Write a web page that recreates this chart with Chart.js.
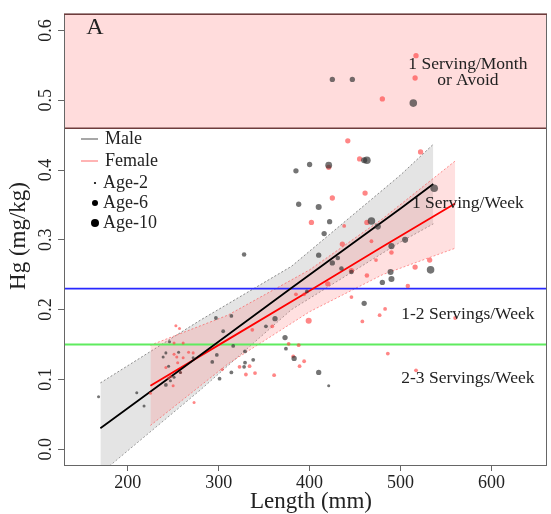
<!DOCTYPE html>
<html>
<head>
<meta charset="utf-8">
<script src="https://cdn.jsdelivr.net/npm/chart.js@4.4.1/dist/chart.umd.min.js"></script>
<style>
  html, body { margin: 0; padding: 0; background: #fff; }
  canvas { display: block; }
</style>
</head>
<body>
<canvas id="hgChart" width="551" height="514"></canvas>
<script>
// tick labels
const lengthTicks = [200, 300, 400, 500, 600];
const hgTicks = [0.0, 0.1, 0.2, 0.3, 0.4, 0.5, 0.6];

// consumption advice limits (mg/kg): avoid above, 1/week, 1-2/week
const adviceLimits = [0.46, 0.23, 0.15];
const adviceLabels = [['1 Serving/Month', 'or Avoid'], ['1 Serving/Week'], ['1-2 Servings/Week'], ['2-3 Servings/Week']];

// male fish
const maleLength = [425, 447, 514, 463, 460, 385, 400, 421, 388, 410, 422, 468, 475, 416, 490, 328, 410, 431, 425, 435,
  537, 505, 533, 489, 446, 490, 480, 460, 421, 397, 362, 352, 373, 329, 374, 383, 338, 329, 328, 410,
  297, 314, 305, 246, 242, 239, 256, 272, 245, 258, 251, 247, 242, 218, 298, 293, 316, 314, 301, 168, 210];
const maleHg = [0.530, 0.530, 0.496, 0.414, 0.414, 0.399, 0.408, 0.407, 0.351, 0.347, 0.326, 0.327, 0.319, 0.309, 0.291, 0.279, 0.278, 0.274, 0.267, 0.259,
  0.374, 0.300, 0.257, 0.254, 0.254, 0.244, 0.239, 0.209, 0.091, 0.226, 0.187, 0.176, 0.160, 0.140, 0.144, 0.130, 0.128, 0.124, 0.118, 0.110,
  0.188, 0.191, 0.169, 0.154, 0.138, 0.132, 0.139, 0.131, 0.119, 0.110, 0.103, 0.098, 0.092, 0.062, 0.135, 0.125, 0.148, 0.110, 0.101, 0.075, 0.081];
const maleAge = [5, 5, 8, 8, 6, 5, 5, 7, 5, 6, 5, 8, 6, 5, 6, 4, 5, 4, 5, 4,
  8, 6, 8, 6, 4, 6, 5, 5, 2, 3, 5, 3, 5, 3, 3, 5, 3, 3, 3, 5,
  3, 3, 3, 2, 2, 2, 2, 2, 2, 2, 2, 2, 3, 2, 3, 3, 3, 3, 3, 2, 2];

// female fish
const femaleLength = [517, 516, 480, 442, 455, 421, 425, 461, 402, 438, 463, 436, 468, 490, 473, 446,
  522, 532, 516, 463, 508, 446, 483, 477, 458, 560, 486, 517, 420, 394, 385, 399, 359, 337, 377, 388,
  382, 394, 389, 323, 334, 330, 340, 361, 253, 257, 251, 261, 251, 267, 272, 261, 254, 242, 255, 247,
  250, 225, 304, 273, 245, 258];
const femaleHg = [0.564, 0.532, 0.502, 0.442, 0.416, 0.404, 0.360, 0.367, 0.325, 0.320, 0.325, 0.294, 0.298, 0.282, 0.271, 0.256,
  0.426, 0.271, 0.261, 0.249, 0.234, 0.218, 0.201, 0.192, 0.183, 0.188, 0.137, 0.113, 0.237, 0.222, 0.222, 0.184, 0.176, 0.171, 0.151, 0.149,
  0.133, 0.126, 0.119, 0.118, 0.119, 0.107, 0.109, 0.106, 0.177, 0.173, 0.152, 0.152, 0.136, 0.139, 0.138, 0.131, 0.132, 0.117, 0.124, 0.104,
  0.091, 0.080, 0.114, 0.067, 0.102, 0.110];
const femaleAge = [5, 5, 5, 5, 5, 5, 5, 5, 5, 3, 5, 5, 3, 4, 3, 5,
  5, 5, 5, 4, 4, 3, 3, 3, 3, 3, 3, 3, 5, 3, 3, 6, 3, 3, 3, 3,
  3, 3, 3, 3, 3, 3, 3, 3, 2, 2, 2, 2, 2, 2, 2, 2, 2, 2, 2, 2,
  2, 2, 2, 2, 2, 2];

// fitted lines and confidence bands
const maleFitLength = [170, 280, 380, 500, 536];
const maleFit = [0.030, 0.135, 0.231, 0.345, 0.380];
const maleUpper = [0.095, 0.185, 0.262, 0.393, 0.437];
const maleLower = [-0.035, 0.085, 0.200, 0.297, 0.323];

const femaleFitLength = [225, 310, 400, 480, 560];
const femaleFit = [0.091, 0.157, 0.227, 0.290, 0.352];
const femaleUpper = [0.149, 0.192, 0.257, 0.330, 0.413];
const femaleLower = [0.034, 0.122, 0.197, 0.250, 0.288];

const X_MIN = 130, X_MAX = 661;
const SERIF = "'Liberation Serif', 'DejaVu Serif', serif";
const TEXT = '#222';

const xy = (xs, ys) => xs.map((x, i) => ({ x: x, y: ys[i] }));
const ageRadius = age => 0.75 + 0.38 * age;

const datasets = [
  { // male points
    type: 'scatter', data: xy(maleLength, maleHg), order: 0,
    backgroundColor: 'rgba(50,50,50,0.68)', borderWidth: 0,
    pointRadius: ctx => ageRadius(maleAge[ctx.dataIndex] || 2)
  },
  {
    type: 'scatter', data: xy(femaleLength, femaleHg), order: 0,
    backgroundColor: 'rgba(255,60,60,0.62)', borderWidth: 0,
    pointRadius: ctx => ageRadius(femaleAge[ctx.dataIndex] || 2)
  },
  { // fitted lines
    type: 'line', data: xy(maleFitLength, maleFit), order: 1,
    borderColor: '#000', borderWidth: 1.8, pointRadius: 0, fill: false
  },
  {
    type: 'line', data: xy(femaleFitLength, femaleFit), order: 1,
    borderColor: '#ff0000', borderWidth: 1.8, pointRadius: 0, fill: false
  },
  { // advice lines
    type: 'line', data: xy([X_MIN, X_MAX], [adviceLimits[1], adviceLimits[1]]), order: 2,
    borderColor: 'rgb(40,40,255)', borderWidth: 1.8, pointRadius: 0, fill: false
  },
  {
    type: 'line', data: xy([X_MIN, X_MAX], [adviceLimits[2], adviceLimits[2]]), order: 2,
    borderColor: 'rgb(95,235,95)', borderWidth: 2.2, pointRadius: 0, fill: false
  },
  { // male band
    type: 'line', data: xy(maleFitLength, maleUpper), order: 4,
    borderColor: 'rgba(60,60,60,0.8)', borderWidth: 0.7, borderDash: [2, 2], pointRadius: 0,
    fill: '+1', backgroundColor: 'rgba(190,190,190,0.42)'
  },
  {
    type: 'line', data: xy(maleFitLength, maleLower), order: 4,
    borderColor: 'rgba(60,60,60,0.8)', borderWidth: 0.7, borderDash: [2, 2], pointRadius: 0, fill: false
  },
  { // female band
    type: 'line', data: xy(femaleFitLength, femaleUpper), order: 3,
    borderColor: 'rgba(255,60,60,0.8)', borderWidth: 0.7, borderDash: [2, 2], pointRadius: 0,
    fill: '+1', backgroundColor: 'rgba(255,130,130,0.25)'
  },
  {
    type: 'line', data: xy(femaleFitLength, femaleLower), order: 3,
    borderColor: 'rgba(255,60,60,0.8)', borderWidth: 0.7, borderDash: [2, 2], pointRadius: 0, fill: false
  }
];

const decorPlugin = {
  id: 'decor',
  beforeDatasetsDraw(chart) {
    const { ctx, chartArea: a, scales: { y } } = chart;
    const yTop = y.getPixelForValue(adviceLimits[0]);
    ctx.save();
    ctx.fillStyle = 'rgb(255,220,220)';
    ctx.fillRect(a.left, a.top, a.right - a.left, yTop - a.top);
    ctx.restore();
  },
  afterDatasetsDraw(chart) {
    const { ctx, chartArea: a, scales: { x, y } } = chart;
    ctx.save();
    // avoid limit line
    const yTop = y.getPixelForValue(adviceLimits[0]);
    ctx.strokeStyle = '#6e3c3c';
    ctx.lineWidth = 1.6;
    ctx.beginPath();
    ctx.moveTo(a.left, yTop);
    ctx.lineTo(a.right, yTop);
    ctx.stroke();
    // box
    ctx.strokeStyle = '#666';
    ctx.lineWidth = 1;
    ctx.strokeRect(a.left + 0.5, a.top + 0.5, a.right - a.left - 1, a.bottom - a.top);
    ctx.strokeStyle = '#6e3c3c';
    ctx.lineWidth = 1.4;
    ctx.beginPath();
    ctx.moveTo(a.left, a.top + 0.5);
    ctx.lineTo(a.right, a.top + 0.5);
    ctx.stroke();

    // zone labels
    ctx.fillStyle = TEXT;
    ctx.textAlign = 'center';
    ctx.textBaseline = 'middle';
    ctx.font = '17.5px ' + SERIF;
    const lx = x.getPixelForValue(574);
    const labelY = [[0.552, 0.528], [0.352], [0.193], [0.102]];
    adviceLabels.forEach((lines, i) => {
      lines.forEach((t, j) => ctx.fillText(t, lx, y.getPixelForValue(labelY[i][j])));
    });

    // panel letter
    ctx.font = '24px ' + SERIF;
    ctx.fillText('A', 95, 28);

    // y tick labels, rotated like R
    ctx.font = '18px ' + SERIF;
    hgTicks.forEach(v => {
      ctx.save();
      ctx.translate(46, y.getPixelForValue(v));
      ctx.rotate(-Math.PI / 2);
      ctx.fillText(v.toFixed(1), 0, 0);
      ctx.restore();
    });

    // axis titles
    ctx.font = '23px ' + SERIF;
    ctx.fillText('Length (mm)', 311, 502);
    ctx.save();
    ctx.translate(19, 236);
    ctx.rotate(-Math.PI / 2);
    ctx.fillText('Hg (mg/kg)', 0, 0);
    ctx.restore();

    // legend
    ctx.textAlign = 'left';
    ctx.font = '18px ' + SERIF;
    ctx.lineWidth = 1.3;
    ctx.strokeStyle = '#777';
    ctx.beginPath(); ctx.moveTo(81, 139); ctx.lineTo(98, 139); ctx.stroke();
    ctx.fillText('Male', 105, 139);
    ctx.strokeStyle = '#ff8c8c';
    ctx.beginPath(); ctx.moveTo(81, 161); ctx.lineTo(98, 161); ctx.stroke();
    ctx.fillText('Female', 105, 161);
    const legendAges = [2, 6, 10];
    const legendY = [183, 203, 223];
    const legendR = [1.1, 3, 4];
    ctx.fillStyle = '#000';
    legendAges.forEach((age, i) => {
      ctx.beginPath();
      ctx.arc(95, legendY[i], legendR[i], 0, Math.PI * 2);
      ctx.fill();
    });
    ctx.fillStyle = TEXT;
    legendAges.forEach((age, i) => ctx.fillText('Age-' + age, 103, legendY[i]));
    ctx.restore();
  }
};

new Chart(document.getElementById('hgChart'), {
  data: { datasets: datasets },
  options: {
    responsive: false,
    animation: false,
    devicePixelRatio: 1,
    layout: { padding: { top: 9, right: 2, left: 0, bottom: 0 } },
    plugins: { legend: { display: false }, tooltip: { enabled: false } },
    scales: {
      x: {
        type: 'linear', min: X_MIN, max: X_MAX,
        afterBuildTicks: s => { s.ticks = lengthTicks.map(v => ({ value: v })); },
        afterFit: s => { s.height = 49; },
        border: { display: false },
        grid: { drawOnChartArea: false, drawTicks: true, tickLength: 6, color: '#666' },
        ticks: { color: TEXT, font: { family: SERIF, size: 18 }, padding: 1, maxRotation: 0 }
      },
      y: {
        type: 'linear', min: -0.0227, max: 0.624,
        afterBuildTicks: s => { s.ticks = hgTicks.map(v => ({ value: v })); },
        afterFit: s => { s.width = 64; },
        border: { display: false },
        grid: { drawOnChartArea: false, drawTicks: true, tickLength: 6, color: '#666' },
        ticks: { color: 'rgba(0,0,0,0)', font: { family: SERIF, size: 18 } }
      }
    }
  },
  plugins: [decorPlugin]
});
</script>
</body>
</html>
